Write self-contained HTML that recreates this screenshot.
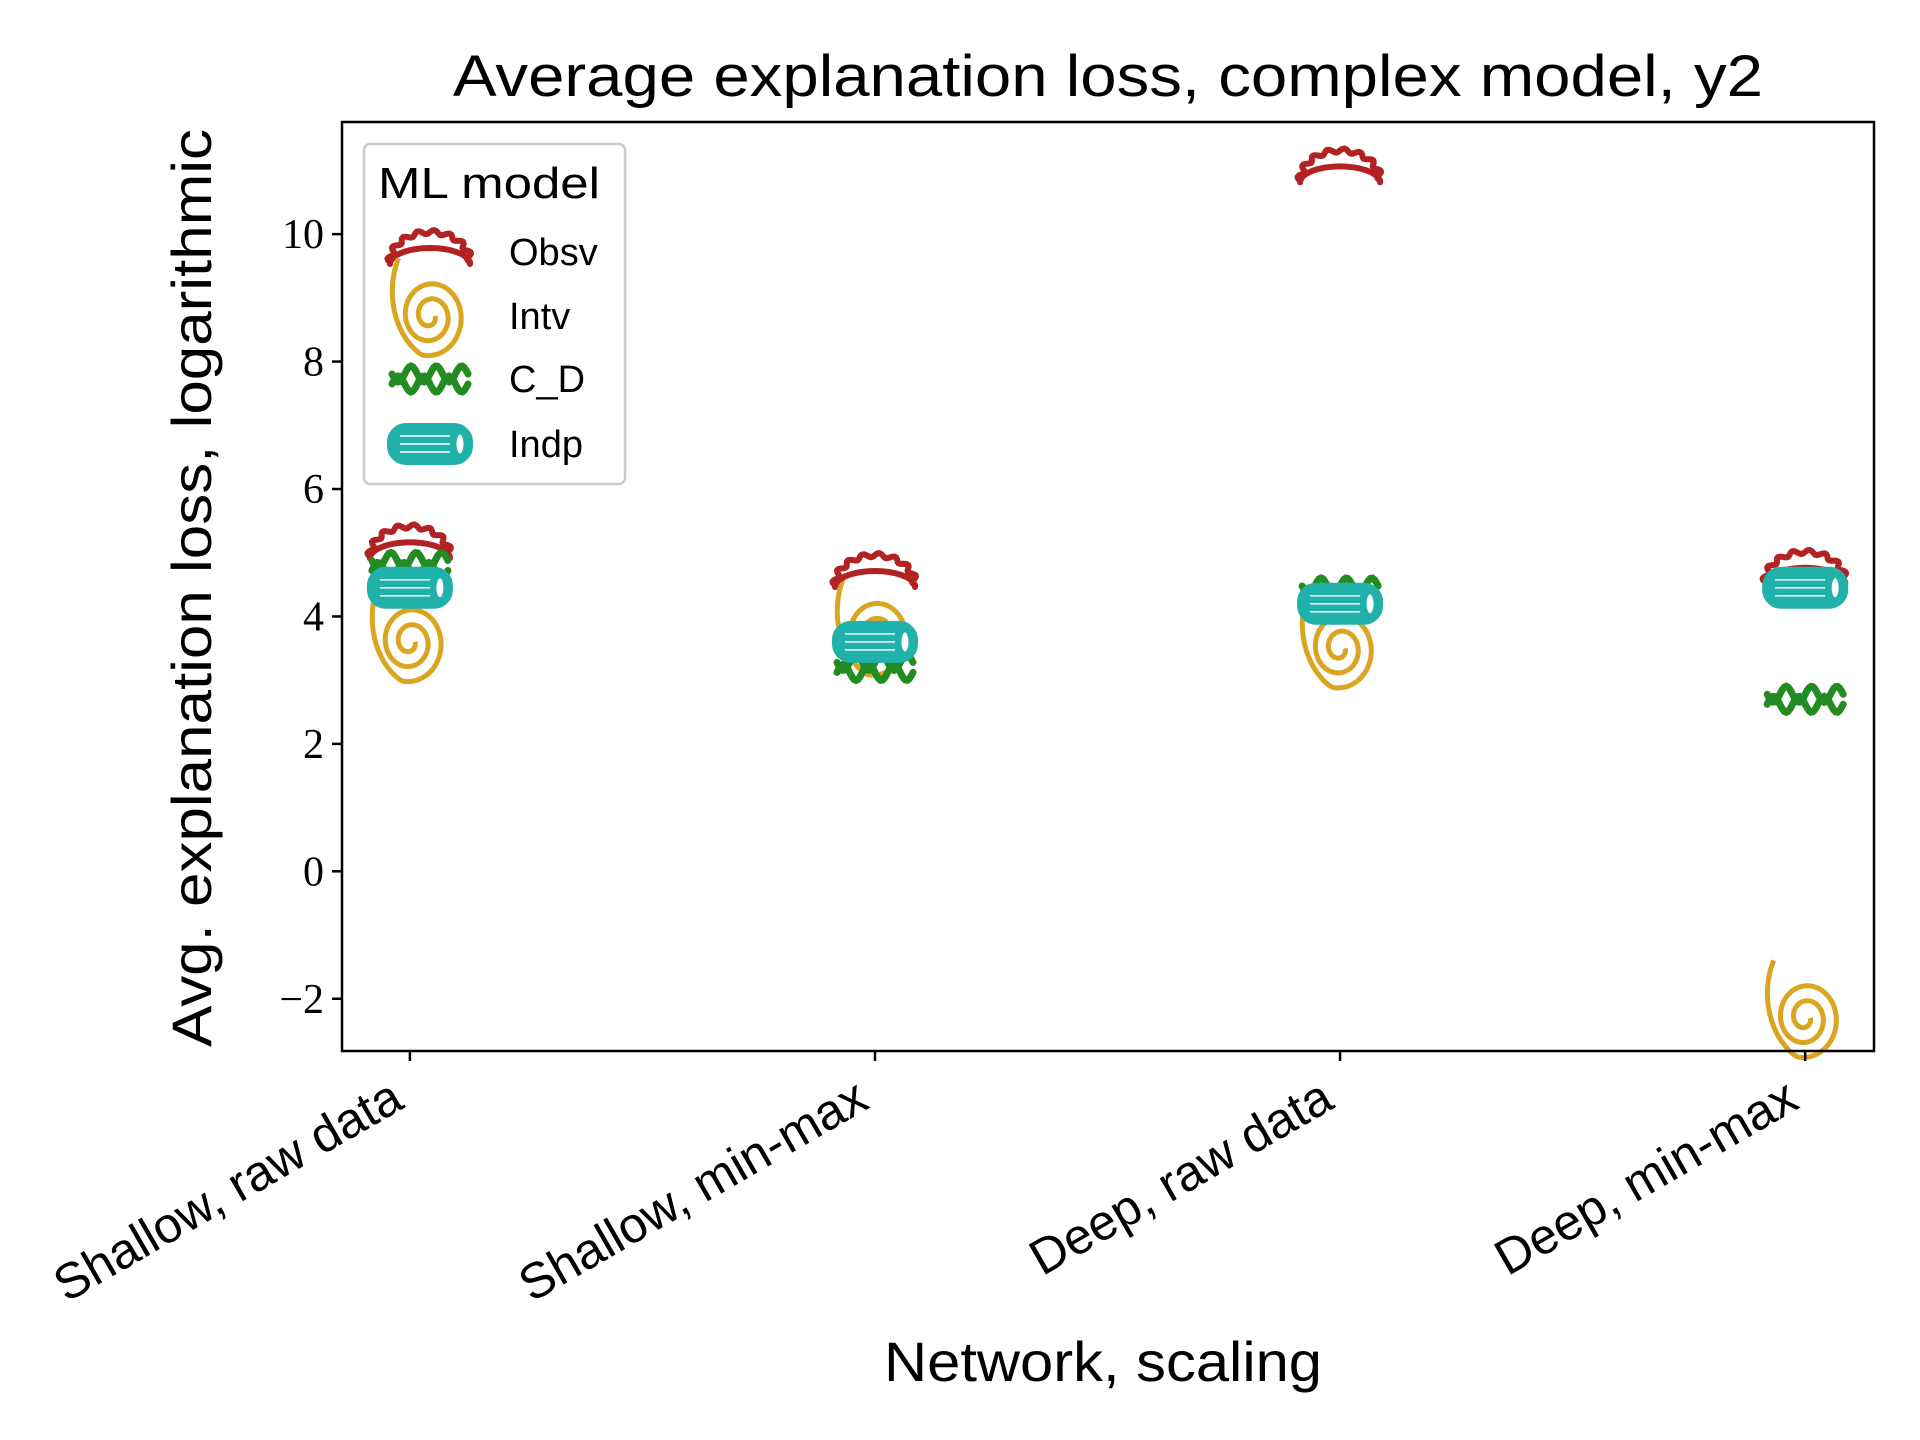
<!DOCTYPE html>
<html><head><meta charset="utf-8"><style>body{margin:0;background:#fff}svg{display:block}</style></head>
<body>
<svg id="chart" width="1920" height="1440" viewBox="0 0 1920 1440" xmlns="http://www.w3.org/2000/svg" font-family="Liberation Sans, sans-serif">
<rect width="1920" height="1440" fill="#fff"/>
<text x="1108" y="96" font-size="58" text-anchor="middle" textLength="1310" lengthAdjust="spacingAndGlyphs">Average explanation loss, complex model, y2</text>
<text transform="translate(211,588) rotate(-90)" font-size="56" text-anchor="middle" textLength="918" lengthAdjust="spacingAndGlyphs">Avg. explanation loss, logarithmic</text>
<text x="1103" y="1381" font-size="56" text-anchor="middle" textLength="438" lengthAdjust="spacingAndGlyphs">Network, scaling</text>
<g id="plot"></g>
<rect x="342" y="122" width="1532" height="929" fill="none" stroke="#000" stroke-width="2.5"/>
<g id="legend">
<rect x="364" y="144" width="261" height="340" rx="6" fill="#fff" stroke="#ccc" stroke-width="2.5" fill-opacity="0.8"/>
<text x="378" y="198" font-size="44" textLength="222" lengthAdjust="spacingAndGlyphs">ML model</text>
</g>
</svg>
<script>
const categories=["Shallow, raw data","Shallow, min-max","Deep, raw data","Deep, min-max"];
const seriesNames=["Obsv","Intv","C_D","Indp"];
const obsv=[5.1,4.65,11.0,4.7];
const intv=[3.6,3.7,3.5,-2.3];
const cd=[4.8,3.2,4.4,2.7];
const indp=[4.45,3.6,4.2,4.45];
const yTicks=[-2,0,2,4,6,8,10];
const colors=["#b22222","#daa520","#228b22","#20b2aa"];
const NS="http://www.w3.org/2000/svg";
const X0=342,X1=1874,Y0=122,Y1=1051,xmin=-0.146,xmax=3.148,ymin=-2.82,ymax=11.76;
function xs(i){return X0+(i-xmin)/(xmax-xmin)*(X1-X0);}
function ys(v){return Y1-(v-ymin)/(ymax-ymin)*(Y1-Y0);}
function mk(tag,attrs,parent){const e=document.createElementNS(NS,tag);for(const k in attrs)e.setAttribute(k,attrs[k]);parent.appendChild(e);return e;}
const svg=document.getElementById('chart');
const plot=document.getElementById('plot');
yTicks.forEach(t=>{
  const g=mk('g',{},svg);
  
  
  mk('line',{x1:X0-10,x2:X0,y1:ys(t),y2:ys(t),stroke:'#000','stroke-width':2.5},g);
  const tx=mk('text',{x:X0-18,y:ys(t)+14,'font-size':42,'text-anchor':'end','font-family':'Liberation Serif, serif'},g);
  tx.textContent=(t<0?'\u2212':'')+Math.abs(t);
});
categories.forEach((c,i)=>{
  const g=mk('g',{},svg);
  
  
  mk('line',{x1:xs(i),x2:xs(i),y1:Y1,y2:Y1+10,stroke:'#000','stroke-width':2.5},g);
  const tx=mk('text',{transform:`translate(${xs(i)-4},${Y1+56}) rotate(-30)`,'font-size':50,'text-anchor':'end'},g);
  tx.textContent=c;
});
function obsvMarker(cx,cy,g){
  let d='';const n=60;
  for(let k=0;k<=n;k++){const a=Math.PI*k/n;const r=1+0.07*Math.sin(a*16);const x=cx-40*r*Math.cos(a),y=cy+10-30*r*Math.sin(a);d+=(k?'L':'M')+x.toFixed(1)+','+y.toFixed(1);}
  for(let k=0;k<=30;k++){const a=Math.PI*k/30;const x=cx+40*Math.cos(a),y=cy+12-16*Math.sin(a);d+='L'+x.toFixed(1)+','+y.toFixed(1);}
  d+='Z';
  mk('path',{d:d,fill:'none',stroke:colors[0],'stroke-width':6,'stroke-linejoin':'round'},g);
}
function intvMarker(cx,cy,g){
  let d='';const n=140;
  for(let k=0;k<=n;k++){const t=k/n;const a=t*Math.PI*5.2;const r=5+34*t;const x=cx+r*Math.cos(a)*1.0,y=cy+r*Math.sin(a)*1.15-(t>0.88?(t-0.88)*260:0);d+=(k?'L':'M')+x.toFixed(1)+','+y.toFixed(1);}
  mk('path',{d:d,fill:'none',stroke:colors[1],'stroke-width':5,'stroke-linejoin':'round'},g);
}
function cdMarker(cx,cy,g){
  [-5,5].forEach(o=>{let d='';for(let k=0;k<=40;k++){const x=cx-38+76*k/40;const y=cy+o+8*Math.sin(k/40*Math.PI*6+(o>0?Math.PI:0));d+=(k?'L':'M')+x.toFixed(1)+','+y.toFixed(1);}
  mk('path',{d:d,fill:'none',stroke:colors[2],'stroke-width':7,'stroke-linecap':'round'},g);});
}
function indpMarker(cx,cy,g){
  mk('rect',{x:cx-40,y:cy-18,width:80,height:36,rx:16,fill:colors[3],stroke:colors[3],'stroke-width':6},g);
  [-8,0,8].forEach(o=>mk('line',{x1:cx-30,x2:cx+20,y1:cy+o,y2:cy+o,stroke:'#fff','stroke-width':1.5},g));
  mk('ellipse',{cx:cx+30,cy:cy,rx:5,ry:11,fill:'#fff',stroke:colors[3],'stroke-width':3},g);
}
const drawers=[obsvMarker,intvMarker,cdMarker,indpMarker];
const allSeries=[obsv,intv,cd,indp];
const order=[1,0,2,3];
order.forEach(s=>{
  allSeries[s].forEach((v,i)=>{
    const g=mk('g',{},plot);
    
    
    drawers[s](xs(i),ys(v),g);
  });
});
const leg=document.getElementById('legend');
const ly=[252,316,379,444];
seriesNames.forEach((n,s)=>{
  const g=mk('g',{},leg);
  
  
  drawers[s](430,ly[s],g);
  const tx=mk('text',{x:509,y:ly[s]+13,'font-size':38},g);
  tx.textContent=n;
});
</script>
</body></html>
